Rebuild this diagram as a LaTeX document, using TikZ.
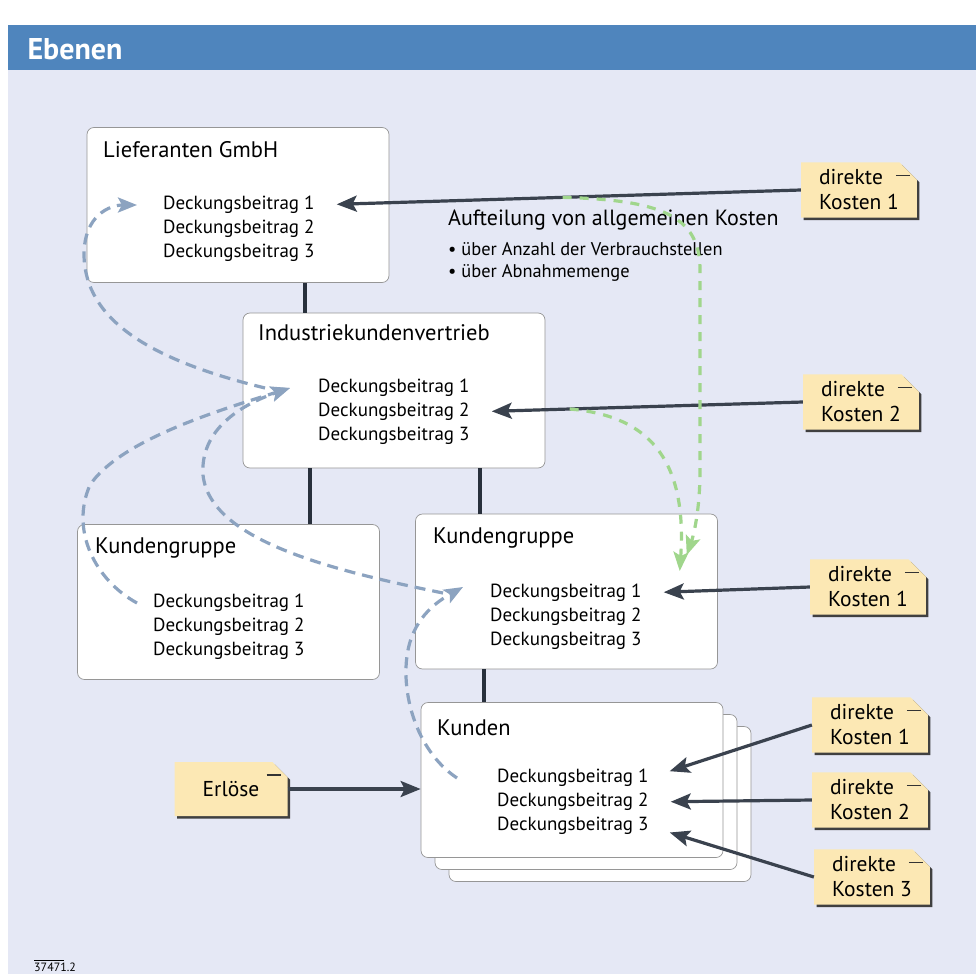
\documentclass[tikz,border=0pt]{standalone}
\usepackage{fontspec}
\setmainfont{PT Sans}
\usepackage{tikz}
\usetikzlibrary{arrows.meta,positioning,shapes.misc,shadows}

\definecolor{panel}{RGB}{229,232,245}
\definecolor{kopf}{RGB}{79,133,189}
\definecolor{boxline}{RGB}{150,150,150}
\definecolor{notizgelb}{RGB}{252,232,180}
\definecolor{pfeil}{RGB}{58,66,78}
\definecolor{linie}{RGB}{40,48,60}
\definecolor{umlageblau}{RGB}{140,163,192}
\definecolor{umlagegruen}{RGB}{160,214,140}

\begin{document}
\begin{tikzpicture}[x=1pt,y=-1pt]
	 \tikzstyle{ebene}=[draw=boxline,fill=white,rounded corners=7pt,minimum width=302pt,minimum height=155pt,line width=0.7pt]
	 \tikzstyle{titel}=[anchor=west,inner sep=0pt,font=\fontsize{22.5}{26}\selectfont]
	 \tikzstyle{beitrag}=[anchor=west,inner sep=0pt,font=\fontsize{19}{23}\selectfont]
	 \tikzstyle{notiz}=[chamfered rectangle,chamfered rectangle corners=north east,chamfered rectangle xsep=14pt,
	   fill=notizgelb,minimum width=108pt,minimum height=54pt,inner sep=4pt,align=left,
	   font=\fontsize{21.5}{25}\selectfont,
	   drop shadow={shadow xshift=2.5pt,shadow yshift=-2.5pt,fill=black!75,opacity=1},
	   path picture={\draw[line width=1.1pt,black!80] ([xshift=-21pt,yshift=-13pt]path picture bounding box.north east) -- ++(14pt,0pt);}]
	 \tikzstyle{edge}=[draw=linie,line width=3.2pt]
	 \tikzstyle{kosten}=[draw=pfeil,line width=3.2pt,-{Stealth[length=20pt,width=16pt,inset=4pt]},shorten >=22pt]
	 \tikzstyle{umlage}=[draw=umlageblau,line width=3.2pt,dash pattern=on 11pt off 7pt,-{Stealth[length=19pt,width=15pt,inset=4pt]}]
	 \tikzstyle{gruen}=[umlage,draw=umlagegruen,dash pattern=on 9pt off 8pt]

	 \useasboundingbox (0,0) rectangle (979,974);
	 \fill[panel] (8,25) rectangle (976,974);
	 \fill[kopf] (8,25) rectangle (976,70);
	 \node[anchor=west,text=white,font=\fontsize{30}{33}\selectfont\bfseries] (kopf) at (24,49) {Ebenen};
	 \node[anchor=west,inner sep=0pt,font=\fontsize{12}{14}\selectfont] (nr) at (34,967) {37471.2};
	 \draw[thin] ([yshift=2pt]nr.north west) -- ([yshift=2pt,xshift=-12pt]nr.north east);

	 \node[ebene] (lief) at (238,205) {};
	 \node[ebene] (ind) at (394,390.5) {};
	 \node[ebene] (kgl) at (228.5,602) {};
	 \node[ebene] (kgr) at (566.5,591.5) {};
	 \node[ebene,double copy shadow={shadow xshift=14pt,shadow yshift=-12pt,draw=boxline,fill=white}] (kd) at (572,780) {};

	 \node[titel] (lief-t) at (103,150) {Lieferanten GmbH};
	 \node[beitrag] (lief1) at (163,205) {Deckungsbeitrag 1};
	 \node[beitrag] (lief2) at (163,229) {Deckungsbeitrag 2};
	 \node[beitrag] (lief3) at (163,253) {Deckungsbeitrag 3};

	 \node[titel] (ind-t) at (258,333) {Industriekundenvertrieb};
	 \node[beitrag] (ind1) at (318,388) {Deckungsbeitrag 1};
	 \node[beitrag] (ind2) at (318,412) {Deckungsbeitrag 2};
	 \node[beitrag] (ind3) at (318,436) {Deckungsbeitrag 3};

	 \node[titel] (kgl-t) at (95,548) {Kundengruppe};
	 \node[beitrag] (kgl1) at (153,603) {Deckungsbeitrag 1};
	 \node[beitrag] (kgl2) at (153,627) {Deckungsbeitrag 2};
	 \node[beitrag] (kgl3) at (153,651) {Deckungsbeitrag 3};

	 \node[titel] (kgr-t) at (433,538) {Kundengruppe};
	 \node[beitrag] (kgr1) at (490,593) {Deckungsbeitrag 1};
	 \node[beitrag] (kgr2) at (490,617) {Deckungsbeitrag 2};
	 \node[beitrag] (kgr3) at (490,641) {Deckungsbeitrag 3};

	 \node[titel] (kd-t) at (437,728) {Kunden};
	 \node[beitrag] (kd1) at (497,778) {Deckungsbeitrag 1};
	 \node[beitrag] (kd2) at (497,802) {Deckungsbeitrag 2};
	 \node[beitrag] (kd3) at (497,826) {Deckungsbeitrag 3};

	 \node[anchor=west,inner sep=0pt,font=\fontsize{22}{26}\selectfont] (auf) at (448,220) {Aufteilung von allgemeinen Kosten};
	 \node[anchor=west,inner sep=0pt,font=\fontsize{18.4}{22}\selectfont] (auf1) at (448,249) {• über Anzahl der Verbrauchstellen};
	 \node[anchor=west,inner sep=0pt,font=\fontsize{18.4}{22}\selectfont] (auf2) at (448,273) {• über Abnahmemenge};

	 \node[notiz] (dk-lief) at (859,190) {direkte\\Kosten 1};
	 \node[notiz] (dk-ind) at (861,402) {direkte\\Kosten 2};
	 \node[notiz] (dk-kgr) at (868,587) {direkte\\Kosten 1};
	 \node[notiz] (dk-kd1) at (870,725) {direkte\\Kosten 1};
	 \node[notiz] (dk-kd2) at (870,800) {direkte\\Kosten 2};
	 \node[notiz] (dk-kd3) at (872,877) {direkte\\Kosten 3};
	 \node[notiz,minimum width=113pt] (erl) at (231,789) {Erlöse};

	 \draw[edge] (lief.south -| 305,0) -- (ind.north -| 305,0);
	 \draw[edge] (ind.south -| 310,0) -- (kgl.north -| 310,0);
	 \draw[edge] (ind.south -| 480,0) -- (kgr.north -| 480,0);
	 \draw[edge] (kgr.south -| 484,0) -- (kd.north -| 484,0);

	 \draw[kosten] (dk-lief.west) -- (lief1.east) coordinate[pos=0.49] (g1);
	 \draw[kosten] (dk-ind.west) -- (ind2.east) coordinate[pos=0.70] (g2);
	 \draw[kosten] (dk-kgr.west) -- (kgr1.east);
	 \draw[kosten] (dk-kd1.west) -- (kd1.east);
	 \draw[kosten] (dk-kd2.west) -- (kd2.east);
	 \draw[kosten] (dk-kd3.west) -- (kd3.east);
	 \draw[kosten,shorten >=0pt] (erl.east) -- (erl.east -| kd.west);

	 % Umlage nach oben
	 \draw[umlage] ([xshift=-53pt]ind1.west) .. controls (150,360) and (85,320) .. (84,255)
	   .. controls (84,215) and (110,205) .. ([xshift=-26pt]lief1.west);
	 \draw[umlage] ([xshift=-16pt]kgl1.west) .. controls (95,580) and (70,530) .. (90,485)
	   .. controls (120,440) and (220,410) .. ([xshift=-28pt]ind1.west);
	 \draw[umlage] ([xshift=-47pt]kgr1.west) .. controls (330,570) and (210,540) .. (203,475)
	   .. controls (200,430) and (240,405) .. ([xshift=-28pt]ind1.west);
	 \draw[umlage] ([xshift=-40pt]kd1.west) .. controls (415,750) and (400,690) .. (408,650)
	   .. controls (415,615) and (440,600) .. ([shift={(-27pt,6pt)}]kgr1.west);

	 \draw[gruen] (g1) .. controls (660,200) and (700,215) .. (700,270) -- (700,470)
	   .. controls (700,515) and (692,540) .. ([shift={(45pt,38pt)}]kgr1.east);
	 \draw[gruen] (g2) .. controls (640,415) and (688,450) .. ([shift={(38pt,22pt)}]kgr1.east);
\end{tikzpicture}
\end{document}
